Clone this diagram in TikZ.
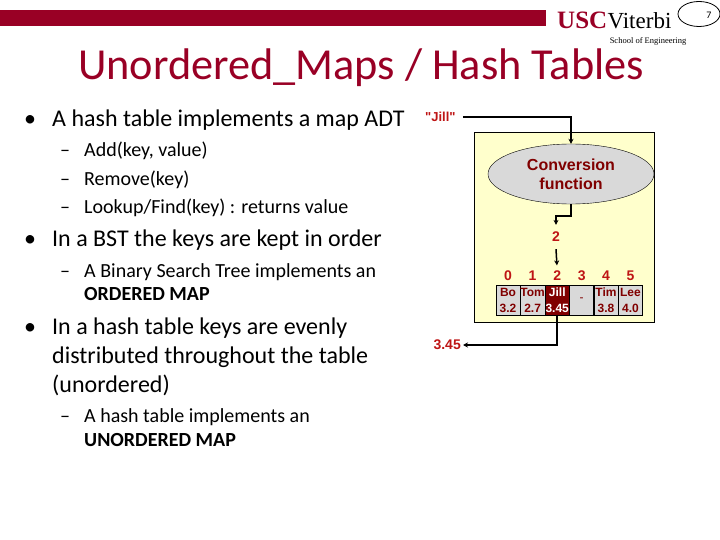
\documentclass[tikz,border=0pt]{standalone}
\usepackage{fontspec}
\setmainfont{Carlito}
\newfontfamily\diagramfont{Liberation Sans}
\newfontfamily\logofont{Liberation Serif}
\usetikzlibrary{shapes, arrows.meta, positioning}
\definecolor{uscred}{RGB}{153,0,37}
\definecolor{labelred}{RGB}{190,20,20}
\definecolor{textred}{RGB}{128,0,0}
\definecolor{paleyellow}{RGB}{255,255,204}
\definecolor{cellgray}{RGB}{217,217,217}
\newcommand{\cellrows}[2]{\rule[-3pt]{0pt}{14pt}#1\\\rule[-3pt]{0pt}{13pt}#2}
\tikzset{
    bullet/.style={anchor=base west, font=\fontsize{24}{28}\selectfont, inner sep=0pt},
    subbullet/.style={anchor=base west, font=\fontsize{20}{24}\selectfont, inner sep=0pt},
    hashlabel/.style={font=\diagramfont\bfseries\fontsize{14}{15}\selectfont, text=labelred, inner sep=0pt},
    cell/.style={draw=black, fill=cellgray, minimum width=24pt, minimum height=30pt, inner sep=0pt,
        align=center, text=textred, font=\diagramfont\bfseries\fontsize{12}{16}\selectfont},
    flow/.style={line width=1.5pt, -{Stealth[length=5pt, width=5pt]}}
}
\begin{document}
\begin{tikzpicture}[x=1pt, y=-1pt]
    \useasboundingbox (0,0) rectangle (720,540);

    % Header
    \fill[uscred] (0,10) rectangle (546,26);
    \node[anchor=base west, inner sep=0pt, text=uscred, font=\logofont\bfseries\fontsize{25}{25}\selectfont] (usc) at (557,29) {USC};
    \node[anchor=base west, inner sep=0pt, font=\logofont\fontsize{23}{23}\selectfont] (viterbi) at (usc.base east) {Viterbi};
    \node[anchor=base, inner sep=0pt, font=\logofont\fontsize{8.5}{9}\selectfont] (school) at (648,44) {School of Engineering};
    \node[draw, line width=0.8pt, ellipse, minimum width=42pt, minimum height=25pt, inner sep=0pt] (page) at (699,14) {};
    \node[inner sep=0pt, font=\fontsize{10}{10}\selectfont] (pagenum) at (709,15) {7};

    % Title
    \node[anchor=base west, inner sep=0pt, text=uscred, font=\fontsize{44.3}{44}\selectfont] (title) at (78,80) {Unordered\_Maps / Hash Tables};

    % Left column
    \node[bullet] (b1) at (24,127) {•};
    \node[bullet] (t1) at (52,127) {A hash table implements a map ADT};
    \node[subbullet] (d1) at (60,157) {–};
    \node[subbullet] (s1) at (84,157) {Add(key, value)};
    \node[subbullet] (d2) at (60,186) {–};
    \node[subbullet] (s2) at (84,186) {Remove(key)};
    \node[subbullet] (d3) at (60,214) {–};
    \node[subbullet] (s3) at (84,214) {Lookup/Find(key) : returns value};
    \node[bullet] (b2) at (24,247) {•};
    \node[bullet] (t2) at (52,247) {In a BST the keys are kept in order};
    \node[subbullet] (d4) at (60,277) {–};
    \node[subbullet] (s4) at (84,277) {A Binary Search Tree implements an};
    \node[subbullet] (s5) at (84,300) {\textbf{ORDERED  MAP}};
    \node[bullet] (b3) at (24,334) {•};
    \node[bullet] (t3) at (52,334) {In a hash table keys are evenly};
    \node[bullet] (t4) at (52,363) {distributed throughout the table};
    \node[bullet] (t5) at (52,392) {(unordered)};
    \node[subbullet] (d5) at (60,422) {–};
    \node[subbullet] (s6) at (84,422) {A hash table implements an};
    \node[subbullet] (s7) at (84,446) {\textbf{UNORDERED MAP}};

    % Hash function panel
    \node[draw=black, fill=paleyellow, line width=0.7pt, minimum width=180pt, minimum height=190pt, inner sep=0pt] (panel) at (564,227) {};
    \node[draw=black, fill=cellgray, ellipse, minimum width=166pt, minimum height=60pt, inner sep=0pt, align=center,
        text=textred, font=\diagramfont\bfseries\fontsize{16}{19}\selectfont] (conv) at (571,174) {Conversion\\function};

    % Input and index
    \node[hashlabel, anchor=west, font=\diagramfont\bfseries\fontsize{13}{15}\selectfont] (jill) at (425,117) {"Jill"};
    \node[hashlabel, inner sep=7pt] (idx) at (556,237) {2};

    % Table cells
    \node[cell] (c0) at (508,300) {\cellrows{Bo}{3.2}};
    \node[cell, right=0pt of c0] (c1) {\cellrows{Tom}{2.7}};
    \node[cell, right=0pt of c1, fill=textred, text=white] (c2) {\cellrows{Jill}{3.45}};
    \node[cell, right=0pt of c2, font=\diagramfont\fontsize{12}{16}\selectfont] (c3) {-};
    \node[cell, right=0pt of c3] (c4) {\cellrows{Tim}{3.8}};
    \node[cell, right=0pt of c4] (c5) {\cellrows{Lee}{4.0}};

    % Index labels
    \foreach \i in {0,...,5} {
        \node[hashlabel, text height=10pt, text depth=0pt, above=4pt of c\i] (i\i) {\i};
    }

    % Output
    \node[hashlabel, anchor=east] (out) at (461,345) {3.45};

    % Arrows
    \draw[flow] (jill.east) ++(7,0) -| (conv.north);
    \coordinate (bend) at (556,216);
    \draw[flow] (conv.south) |- (bend) -- (idx.north);
    \draw[flow, shorten >=5pt] (idx.south) -- (i2.north);
    \draw[flow, shorten >=2pt] (c2.south) |- (out.east);
\end{tikzpicture}
\end{document}
